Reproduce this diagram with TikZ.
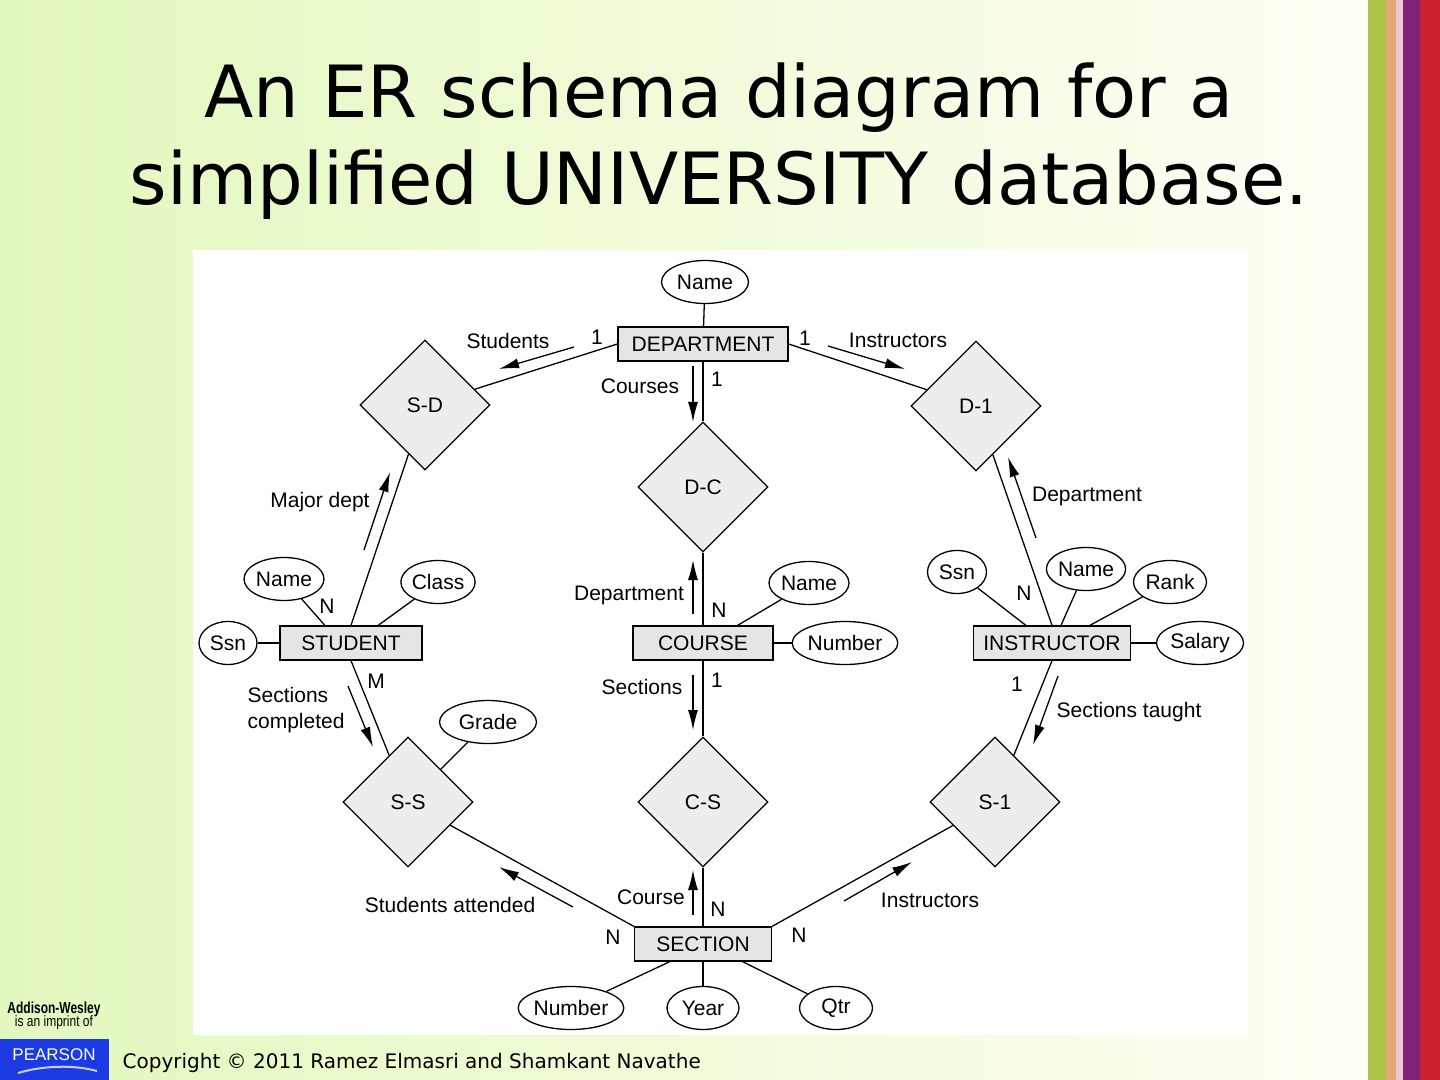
\documentclass[tikz,border=0pt]{standalone}
\usepackage{fontspec}
\setmainfont{DejaVu Sans}
\newfontfamily\erfont{Liberation Sans}
\usetikzlibrary{shapes.geometric,arrows.meta}

\definecolor{bgleft}{RGB}{227,248,190}
\definecolor{bgright}{RGB}{254,255,246}
\definecolor{pearsonblue}{RGB}{28,58,226}
\definecolor{stripgreen}{RGB}{172,196,72}
\definecolor{striporange}{RGB}{226,168,112}
\definecolor{strippink}{RGB}{236,200,216}
\definecolor{strippurple}{RGB}{128,34,118}
\definecolor{stripred}{RGB}{204,32,46}

\tikzset{
    erfont/.style={font=\erfont\fontsize{10.5}{13}\selectfont},
    entity/.style={draw, rectangle, fill=black!10, minimum height=17pt, inner sep=0pt, erfont},
    relation/.style={draw, diamond, fill=black!7, minimum width=65pt, minimum height=65pt, inner sep=0pt, erfont},
    attr/.style={draw, ellipse, fill=white, minimum height=21.5pt, inner sep=0pt, erfont},
    lbl/.style={inner sep=0pt, erfont},
    dirarrow/.style={-{Latex[length=10pt,width=5pt]}}
}

\begin{document}
\begin{tikzpicture}[x=0.5pt, y=-0.5pt, line width=0.65pt]
    \useasboundingbox (0,0) rectangle (1440,1080);
    \fill[left color=bgleft, right color=bgright] (0,0) rectangle (1368,1080);
    \fill[stripgreen] (1368,0) rectangle (1386,1080);
    \fill[striporange] (1386,0) rectangle (1396,1080);
    \fill[strippink] (1396,0) rectangle (1403,1080);
    \fill[strippurple] (1403,0) rectangle (1420,1080);
    \fill[stripred] (1420,0) rectangle (1440,1080);
    \fill[white] (193,250) rectangle (1248,1035);

    \node[anchor=base, font=\fontsize{36}{43}\selectfont] (title1) at (719,118) {An ER schema diagram for a};
    \node[anchor=base, font=\fontsize{36}{43}\selectfont] (title2) at (719,205) {simplified UNIVERSITY database.};

    \node[entity, minimum width=85pt] (dept) at (703,344) {DEPARTMENT};
    \node[attr, minimum width=43.5pt] (dname) at (705,282) {Name};
    \node[relation] (sd) at (425,405) {S-D};
    \node[relation] (di) at (976,406) {D-1};
    \node[relation] (dc) at (703,487) {D-C};

    \node[entity, minimum width=71pt] (student) at (351,643) {STUDENT};
    \node[attr, minimum width=40pt] (sname) at (284,579) {Name};
    \node[attr, minimum width=36.5pt] (sclass) at (438,582) {Class};
    \node[attr, minimum width=29pt] (sssn) at (228,643) {Ssn};

    \node[entity, minimum width=70pt] (course) at (703,643) {COURSE};
    \node[attr, minimum width=40pt] (cname) at (809,583) {Name};
    \node[attr, minimum width=50.5pt] (cnumber) at (845,643) {Number};

    \node[entity, minimum width=78.5pt] (instructor) at (1052,643) {INSTRUCTOR};
    \node[attr, minimum width=29.5pt] (issn) at (957,572) {Ssn};
    \node[attr, minimum width=36.5pt] (iname) at (1086,569) {Name};
    \node[attr, minimum width=36.5pt] (irank) at (1170,582) {Rank};
    \node[attr, minimum width=43.5pt] (isalary) at (1200,643) {Salary};

    \node[relation] (ss) at (408,802) {S-S};
    \node[relation] (cs) at (703,802) {C-S};
    \node[relation] (si) at (995,802) {S-1};
    \node[attr, minimum width=48.5pt] (grade) at (488,722) {Grade};

    \node[entity, minimum width=68.5pt] (section) at (703,944) {SECTION};
    \node[attr, minimum width=49pt] (secnumber) at (571,1008) {Number};
    \node[attr, minimum width=36pt] (secyear) at (703,1008) {Year};
    \node[attr, minimum width=36.5pt] (secqtr) at (836,1008) {Qtr};

    \draw (dname) -- (dept);
    \draw (dept.west) -- (sd);
    \draw (dept.east) -- (di);
    \draw (dept) -- (dc);
    \draw (sd) -- (student.north);
    \draw (di) -- (instructor.north);
    \draw (dc) -- (course);
    \draw (sname) -- (student.146);
    \draw (sclass) -- (student.33);
    \draw (sssn) -- (student);
    \draw (cname) -- (course.27);
    \draw (cnumber) -- (course);
    \draw (issn) -- (instructor.146);
    \draw (iname) -- (instructor.63);
    \draw (irank) -- (instructor.25);
    \draw (isalary) -- (instructor);
    \draw (student.south) -- (ss);
    \draw (course) -- (cs);
    \draw (instructor.south) -- (si);
    \draw (grade) -- (ss);
    \draw (ss) -- (section.north west);
    \draw (cs) -- (section);
    \draw (si) -- (section.north east);
    \draw (secnumber) -- (section.208);
    \draw (secyear) -- (section);
    \draw (secqtr) -- (section.336);

    \node[lbl] (l1) at (597,337) {1};
    \node[lbl] (lstudents) at (508,341) {Students};
    \node[lbl] (l2) at (805,338) {1};
    \node[lbl] (linstructors) at (898,340) {Instructors};
    \node[lbl] (lcourses) at (640,386) {Courses};
    \node[lbl] (l3) at (717,379) {1};
    \node[lbl] (lmajor) at (320,502) {Major dept};
    \node[lbl] (ldept) at (1087,496) {Department};
    \node[lbl] (n1) at (327,606) {N};
    \node[lbl] (ldept2) at (629,595) {Department};
    \node[lbl] (n2) at (719,610) {N};
    \node[lbl] (n3) at (1024,593) {N};
    \node[lbl] (m1) at (376,681) {M};
    \node[lbl, anchor=west, align=left] (lcompleted) at (247,710) {Sections\\completed};
    \node[lbl] (lsections) at (642,687) {Sections};
    \node[lbl] (l4) at (717,680) {1};
    \node[lbl] (l5) at (1017,684) {1};
    \node[lbl] (ltaught) at (1129,712) {Sections taught};
    \node[lbl] (lattended) at (450,905) {Students attended};
    \node[lbl] (lcourse) at (651,897) {Course};
    \node[lbl] (n4) at (718,909) {N};
    \node[lbl] (n5) at (613,937) {N};
    \node[lbl] (n6) at (799,935) {N};
    \node[lbl] (linstr2) at (930,900) {Instructors};

    \coordinate (a1s) at (574,347); \coordinate (a1e) at (499,369);
    \coordinate (a2s) at (828,346); \coordinate (a2e) at (905,369);
    \coordinate (a3s) at (693,366); \coordinate (a3e) at (693,422);
    \coordinate (a4s) at (364,550); \coordinate (a4e) at (390,472);
    \coordinate (a5s) at (1036,538); \coordinate (a5e) at (1008,457);
    \coordinate (a6s) at (693,614); \coordinate (a6e) at (693,560);
    \coordinate (a7s) at (348,686); \coordinate (a7e) at (373,747);
    \coordinate (a8s) at (693,675); \coordinate (a8e) at (693,730);
    \coordinate (a9s) at (1058,676); \coordinate (a9e) at (1033,745);
    \coordinate (a10s) at (573,907); \coordinate (a10e) at (499,867);
    \coordinate (a11s) at (693,915); \coordinate (a11e) at (693,870);
    \coordinate (a12s) at (844,901); \coordinate (a12e) at (912,862);
    \foreach \i in {1,...,12}
        \draw[dirarrow] (a\i s) -- (a\i e);

    \node[font=\erfont\bfseries\fontsize{8}{9}\selectfont, xscale=0.75, inner sep=0pt] (aw) at (54,1009) {Addison-Wesley};
    \node[font=\erfont\fontsize{7.5}{9}\selectfont, xscale=0.8, inner sep=0pt] (imprint) at (54,1023) {is an imprint of};
    \fill[pearsonblue] (0,1039) rectangle (109,1080);
    \node[font=\erfont\fontsize{8.5}{10}\selectfont, text=white, inner sep=0pt] (pearson) at (54,1055) {PEARSON};
    \draw[white!75!pearsonblue, line width=1pt] (18,1073) .. controls (45,1065) and (75,1065) .. (97,1071);
    \node[anchor=base west, font=\fontsize{10}{12}\selectfont, inner sep=0pt] (copyright) at (122,1068) {Copyright © 2011 Ramez Elmasri and Shamkant Navathe};
\end{tikzpicture}
\end{document}
